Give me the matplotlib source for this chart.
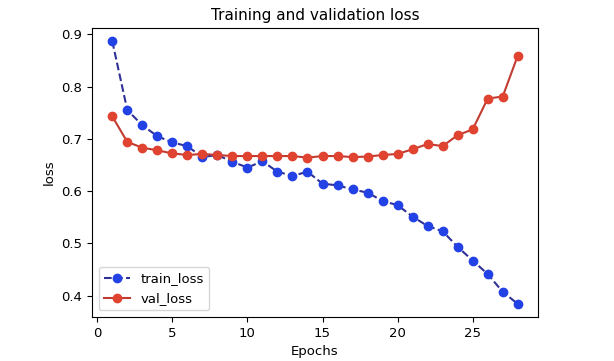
import numpy as np
import matplotlib
matplotlib.use('Agg')
import matplotlib.pyplot as plt

# Valores
epochs = list(range(1, 29))
train_loss = [0.887, 0.755, 0.726, 0.705, 0.693, 0.686, 0.665, 0.669, 0.656, 0.645,
              0.657, 0.637, 0.629, 0.637, 0.614, 0.611, 0.603, 0.597, 0.581, 0.573,
              0.551, 0.533, 0.523, 0.493, 0.467, 0.441, 0.407, 0.384]
val_loss = [0.743, 0.694, 0.683, 0.678, 0.672, 0.669, 0.671, 0.669, 0.667, 0.667,
            0.667, 0.667, 0.667, 0.664, 0.667, 0.667, 0.665, 0.666, 0.669, 0.671,
            0.680, 0.690, 0.686, 0.707, 0.718, 0.777, 0.781, 0.859]

fig = plt.figure(figsize=(6.14, 3.61), dpi=100)
ax = fig.add_axes([92 / 614, 44 / 361, 446 / 614, 289 / 361])

ax.plot(epochs, train_loss, '--o', color='#2f3196', markerfacecolor='#2342e6',
        markeredgecolor='#2342e6', label='train_loss')
ax.plot(epochs, val_loss, '-o', color='#c23b30', markerfacecolor='#e0432f',
        markeredgecolor='#e0432f', label='val_loss')

ax.set_title('Training and validation loss', fontsize=11)
ax.set_xlabel('Epochs', fontsize=9.5)
ax.set_ylabel('loss', fontsize=9.5)
ax.tick_params(axis='both', labelsize=9.5)
ax.legend(loc='lower left', fontsize=9.5)

fig.savefig('out.png', dpi=100)
